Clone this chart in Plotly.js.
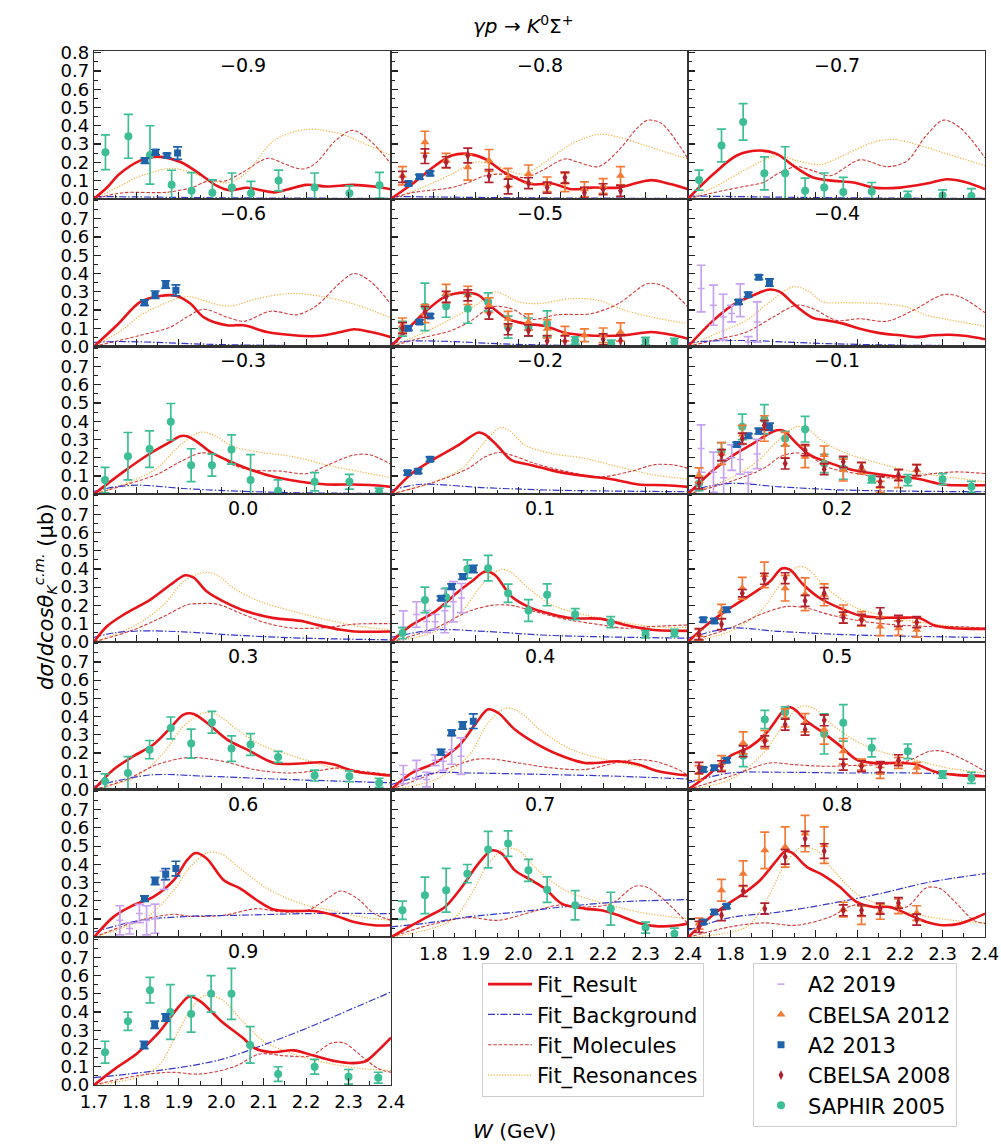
<!DOCTYPE html>
<html>
<head>
<meta charset="utf-8">
<script src="https://cdn.plot.ly/plotly-3.0.1.min.js"></script>
<style>
  html, body { margin: 0; padding: 0; background: #ffffff; }
  #chart { width: 1001px; height: 1146px; }
</style>
</head>
<body>
<div id="chart"></div>
<script>
// cos(theta_K) bins, one panel each, row by row
const cosBins = ['\u22120.9', '\u22120.8', '\u22120.7', '\u22120.6', '\u22120.5', '\u22120.4',
                 '\u22120.3', '\u22120.2', '\u22120.1', '0.0', '0.1', '0.2',
                 '0.3', '0.4', '0.5', '0.6', '0.7', '0.8', '0.9'];
const xTicks = [1.7, 1.8, 1.9, 2.0, 2.1, 2.2, 2.3, 2.4];
const yTicks = [0.0, 0.1, 0.2, 0.3, 0.4, 0.5, 0.6, 0.7, 0.8];

// Fit curves: [W (GeV), dsigma/dcos (ub)]
// Data sets: [W (GeV), dsigma/dcos (ub), error]

// ---- cos = -0.9
const fitRes_m09 = [[1.7,0],[1.73,0.06],[1.76,0.135],[1.81,0.21],[1.85,0.231],[1.905,0.2],[1.95,0.135],[1.99,0.07],[2.02,0.046],[2.06,0.06],[2.09,0.048],[2.125,0.035],[2.156,0.05],[2.2,0.076],[2.25,0.067],[2.31,0.076],[2.36,0.067],[2.4,0.052]];
const fitBkg_m09 = [[1.7,0.012],[1.8,0.01],[1.9,0.007],[2.0,0.005],[2.2,0.003],[2.4,0.002]];
const fitMol_m09 = [[1.7,0],[1.77,0.033],[1.87,0.035],[1.93,0.061],[1.97,0.098],[2.01,0.098],[2.05,0.144],[2.11,0.222],[2.15,0.19],[2.19,0.163],[2.22,0.19],[2.27,0.32],[2.31,0.375],[2.35,0.32],[2.4,0.19]];
const fitRsn_m09 = [[1.7,0],[1.77,0.08],[1.8,0.116],[1.88,0.166],[1.93,0.144],[1.98,0.098],[2.02,0.089],[2.06,0.144],[2.125,0.32],[2.2,0.38],[2.28,0.357],[2.33,0.31],[2.4,0.237]];
const saphir_m09 = [[1.727,0.255,0.095],[1.781,0.342,0.12],[1.832,0.24,0.16],[1.883,0.076,0.08],[1.93,0.043,0.1],[1.979,0.033,0.07],[2.025,0.061,0.08],[2.07,0.03,0.065],[2.135,0.1,0.057],[2.22,0.061,0.08],[2.302,0.03,0.04],[2.373,0.074,0.07]];
const a213_m09 = [[1.82,0.209,0.015],[1.845,0.255,0.015],[1.872,0.237,0.012],[1.897,0.25,0.034]];

// ---- cos = -0.8
const fitRes_m08 = [[1.7,0],[1.749,0.079],[1.804,0.181],[1.843,0.237],[1.882,0.246],[1.922,0.218],[1.961,0.153],[2.0,0.107],[2.034,0.079],[2.079,0.083],[2.126,0.052],[2.173,0.061],[2.236,0.061],[2.283,0.089],[2.314,0.102],[2.361,0.079],[2.4,0.052]];
const fitBkg_m08 = [[1.7,0.012],[1.8,0.01],[1.9,0.007],[2.0,0.005],[2.2,0.003],[2.4,0.002]];
const fitMol_m08 = [[1.7,0],[1.749,0.033],[1.843,0.061],[1.882,0.089],[1.922,0.126],[1.961,0.135],[2.016,0.116],[2.055,0.153],[2.11,0.218],[2.141,0.2],[2.189,0.176],[2.236,0.264],[2.283,0.394],[2.306,0.431],[2.338,0.412],[2.377,0.301],[2.4,0.218]];
const fitRsn_m08 = [[1.7,0],[1.764,0.052],[1.843,0.135],[1.898,0.2],[1.937,0.19],[1.984,0.148],[2.016,0.135],[2.063,0.2],[2.126,0.301],[2.189,0.353],[2.236,0.338],[2.299,0.292],[2.361,0.246],[2.4,0.218]];
const cb12_m08 = [[1.727,0.126,0.05],[1.78,0.31,0.06],[1.83,0.209,0.04],[1.881,0.172,0.07],[1.931,0.21,0.06],[1.976,0.116,0.05],[2.024,0.135,0.05],[2.068,0.079,0.04],[2.11,0.089,0.05],[2.156,0.052,0.04],[2.2,0.07,0.04],[2.241,0.126,0.05]];
const cb08_m08 = [[1.727,0.12,0.03],[1.78,0.233,0.04],[1.83,0.2,0.03],[1.881,0.237,0.04],[1.931,0.125,0.035],[1.976,0.067,0.04],[2.024,0.085,0.03],[2.068,0.061,0.03],[2.11,0.116,0.03],[2.156,0.033,0.03],[2.2,0.052,0.03],[2.241,0.043,0.03]];
const a213_m08 = [[1.741,0.083,0.012],[1.767,0.12,0.012],[1.792,0.139,0.012]];

// ---- cos = -0.7
const fitRes_m07 = [[1.7,0],[1.76,0.135],[1.815,0.237],[1.87,0.264],[1.909,0.246],[1.948,0.181],[1.995,0.116],[2.043,0.098],[2.09,0.089],[2.137,0.061],[2.2,0.061],[2.262,0.083],[2.31,0.107],[2.357,0.089],[2.4,0.052]];
const fitBkg_m07 = [[1.7,0.015],[1.8,0.012],[1.9,0.009],[2.0,0.006],[2.2,0.003],[2.4,0.002]];
const fitMol_m07 = [[1.7,0],[1.76,0.033],[1.838,0.07],[1.877,0.089],[1.917,0.144],[1.956,0.176],[1.995,0.153],[2.035,0.126],[2.105,0.213],[2.168,0.176],[2.215,0.205],[2.262,0.348],[2.302,0.431],[2.341,0.39],[2.4,0.224]];
const fitRsn_m07 = [[1.7,0],[1.76,0.061],[1.838,0.163],[1.909,0.237],[1.956,0.209],[2.011,0.187],[2.074,0.246],[2.137,0.31],[2.184,0.325],[2.247,0.292],[2.31,0.246],[2.4,0.181]];
const saphir_m07 = [[1.726,0.102,0.055],[1.779,0.292,0.09],[1.83,0.421,0.1],[1.88,0.139,0.09],[1.929,0.139,0.146],[1.976,0.043,0.07],[2.021,0.061,0.08],[2.066,0.037,0.08],[2.133,0.039,0.05],[2.218,0.01,0.03],[2.3,0.018,0.03],[2.368,0.015,0.04]];

// ---- cos = -0.6
const fitRes_m06 = [[1.7,0],[1.754,0.116],[1.809,0.244],[1.856,0.277],[1.895,0.277],[1.927,0.235],[1.958,0.161],[2.013,0.116],[2.053,0.116],[2.108,0.079],[2.171,0.061],[2.226,0.057],[2.282,0.079],[2.313,0.094],[2.353,0.079],[2.4,0.051]];
const fitBkg_m06 = [[1.7,0.022],[1.75,0.027],[1.85,0.022],[1.95,0.013],[2.05,0.008],[2.2,0.004],[2.4,0.002]];
const fitMol_m06 = [[1.7,0],[1.809,0.061],[1.88,0.106],[1.919,0.161],[1.958,0.204],[2.013,0.161],[2.053,0.138],[2.116,0.193],[2.179,0.174],[2.226,0.226],[2.274,0.336],[2.313,0.4],[2.353,0.354],[2.4,0.229]];
const fitRsn_m06 = [[1.7,0],[1.77,0.097],[1.809,0.17],[1.848,0.217],[1.9,0.265],[1.927,0.272],[1.982,0.235],[2.022,0.222],[2.085,0.262],[2.163,0.29],[2.242,0.272],[2.321,0.226],[2.4,0.156]];
const a213_m06 = [[1.819,0.24,0.015],[1.844,0.284,0.02],[1.869,0.34,0.02],[1.893,0.308,0.03]];

// ---- cos = -0.5
const fitRes_m05 = [[1.7,0],[1.733,0.079],[1.78,0.189],[1.827,0.272],[1.874,0.295],[1.906,0.281],[1.937,0.217],[1.977,0.149],[2.016,0.125],[2.063,0.112],[2.11,0.075],[2.157,0.061],[2.204,0.057],[2.251,0.061],[2.314,0.079],[2.361,0.064],[2.4,0.042]];
const fitBkg_m05 = [[1.7,0.02],[1.75,0.03],[1.85,0.026],[1.95,0.015],[2.05,0.008],[2.2,0.004],[2.4,0.002]];
const fitMol_m05 = [[1.7,0],[1.764,0.042],[1.843,0.088],[1.89,0.143],[1.937,0.217],[1.984,0.207],[2.031,0.149],[2.094,0.174],[2.173,0.18],[2.236,0.235],[2.306,0.345],[2.346,0.327],[2.4,0.217]];
const fitRsn_m05 = [[1.7,0],[1.764,0.061],[1.843,0.152],[1.906,0.235],[1.945,0.299],[2.0,0.244],[2.047,0.235],[2.126,0.262],[2.189,0.253],[2.251,0.198],[2.314,0.161],[2.4,0.125]];
const cb12_m05 = [[1.727,0.116,0.04],[1.78,0.18,0.05],[1.83,0.29,0.05],[1.881,0.28,0.05],[1.931,0.226,0.04],[1.976,0.152,0.04],[2.024,0.134,0.045],[2.068,0.097,0.05],[2.11,0.07,0.04],[2.156,0.061,0.035],[2.2,0.061,0.04],[2.241,0.079,0.05]];
const cb08_m05 = [[1.727,0.1,0.03],[1.78,0.189,0.03],[1.83,0.272,0.03],[1.881,0.28,0.03],[1.931,0.18,0.03],[1.976,0.094,0.03],[2.024,0.088,0.03],[2.068,0.03,0.03],[2.11,0.028,0.03],[2.2,0.039,0.03],[2.241,0.033,0.03]];
const saphir_m05 = [[1.727,0.097,0.04],[1.78,0.217,0.13],[1.83,0.22,0.06],[1.881,0.207,0.08],[1.929,0.244,0.05],[1.976,0.106,0.06],[2.024,0.106,0.05],[2.068,0.125,0.07],[2.134,0.033,0.02],[2.219,0.015,0.02],[2.3,0.03,0.02],[2.368,0.024,0.02]];
const a213_m05 = [[1.741,0.1,0.012],[1.767,0.134,0.012],[1.792,0.167,0.012]];

// ---- cos = -0.4
const fitRes_m04 = [[1.7,0],[1.76,0.143],[1.807,0.229],[1.854,0.281],[1.893,0.312],[1.917,0.299],[1.948,0.235],[1.995,0.156],[2.027,0.143],[2.066,0.125],[2.105,0.097],[2.152,0.073],[2.2,0.061],[2.239,0.051],[2.278,0.061],[2.317,0.064],[2.357,0.057],[2.4,0.039]];
const fitBkg_m04 = [[1.7,0.02],[1.75,0.03],[1.85,0.032],[1.95,0.022],[2.05,0.014],[2.2,0.007],[2.4,0.004]];
const fitMol_m04 = [[1.7,0],[1.775,0.042],[1.838,0.079],[1.901,0.161],[1.956,0.226],[1.995,0.207],[2.05,0.143],[2.105,0.152],[2.168,0.138],[2.231,0.198],[2.302,0.284],[2.341,0.272],[2.4,0.185]];
const fitRsn_m04 = [[1.7,0],[1.775,0.079],[1.838,0.143],[1.893,0.244],[1.948,0.327],[1.98,0.308],[2.019,0.244],[2.074,0.24],[2.152,0.235],[2.215,0.217],[2.262,0.171],[2.31,0.149],[2.4,0.11]];
const a219_m04 = [[1.731,0.317,0.128],[1.76,0.226,0.11],[1.783,0.161,0.125],[1.803,0.18,0.045],[1.823,0.253,0.09],[1.842,0.024,0.03],[1.863,0.134,0.11]];
const a213_m04 = [[1.819,0.244,0.012],[1.842,0.284,0.012],[1.867,0.38,0.012],[1.892,0.35,0.02]];

// ---- cos = -0.3
const fitRes_m03 = [[1.7,0],[1.769,0.122],[1.832,0.223],[1.88,0.287],[1.903,0.318],[1.919,0.318],[1.943,0.287],[1.974,0.232],[2.014,0.186],[2.061,0.141],[2.124,0.095],[2.187,0.068],[2.25,0.053],[2.313,0.053],[2.36,0.049],[2.4,0.04]];
const fitBkg_m03 = [[1.7,0.015],[1.75,0.04],[1.81,0.049],[1.91,0.031],[2.045,0.016],[2.2,0.007],[2.4,0.004]];
const fitMol_m03 = [[1.7,0],[1.777,0.053],[1.848,0.108],[1.903,0.177],[1.951,0.225],[1.99,0.214],[2.029,0.159],[2.077,0.132],[2.14,0.126],[2.203,0.113],[2.25,0.159],[2.313,0.215],[2.352,0.215],[2.4,0.163]];
const fitRsn_m03 = [[1.7,0],[1.785,0.068],[1.848,0.141],[1.903,0.269],[1.951,0.34],[1.982,0.324],[2.029,0.26],[2.092,0.229],[2.171,0.205],[2.25,0.159],[2.329,0.122],[2.4,0.09]];
const saphir_m03 = [[1.726,0.077,0.07],[1.78,0.208,0.13],[1.831,0.247,0.1],[1.881,0.397,0.1],[1.929,0.159,0.09],[1.978,0.159,0.06],[2.024,0.245,0.08],[2.069,0.077,0.14],[2.134,0.018,0.06],[2.22,0.068,0.05],[2.302,0.068,0.04],[2.372,0.013,0.02]];

// ---- cos = -0.2
const fitRes_m02 = [[1.7,0],[1.749,0.113],[1.804,0.196],[1.859,0.269],[1.906,0.338],[1.922,0.327],[1.953,0.26],[1.984,0.186],[2.031,0.159],[2.094,0.122],[2.157,0.1],[2.22,0.082],[2.283,0.053],[2.346,0.049],[2.4,0.04]];
const fitBkg_m02 = [[1.7,0.02],[1.764,0.053],[1.922,0.035],[2.08,0.022],[2.4,0.013]];
const fitMol_m02 = [[1.7,0],[1.804,0.068],[1.882,0.141],[1.922,0.205],[1.953,0.228],[1.984,0.214],[2.039,0.168],[2.118,0.122],[2.196,0.095],[2.267,0.126],[2.322,0.162],[2.369,0.159],[2.4,0.141]];
const fitRsn_m02 = [[1.7,0],[1.804,0.068],[1.867,0.141],[1.914,0.269],[1.957,0.364],[1.977,0.351],[2.016,0.269],[2.079,0.223],[2.157,0.196],[2.236,0.15],[2.314,0.108],[2.4,0.082]];
const a213_m02 = [[1.739,0.117,0.012],[1.764,0.126,0.012],[1.792,0.192,0.012]];

// ---- cos = -0.1
const fitRes_m01 = [[1.7,0],[1.76,0.132],[1.807,0.214],[1.854,0.278],[1.885,0.324],[1.909,0.35],[1.925,0.348],[1.956,0.278],[1.988,0.214],[2.027,0.177],[2.074,0.141],[2.137,0.113],[2.2,0.095],[2.247,0.082],[2.302,0.053],[2.4,0.049]];
const fitBkg_m01 = [[1.7,0.02],[1.8,0.059],[1.917,0.04],[2.074,0.022],[2.4,0.013]];
const fitMol_m01 = [[1.7,0],[1.799,0.068],[1.878,0.141],[1.917,0.205],[1.948,0.225],[1.98,0.218],[2.027,0.15],[2.097,0.113],[2.168,0.09],[2.231,0.095],[2.278,0.113],[2.333,0.122],[2.4,0.113]];
const fitRsn_m01 = [[1.7,0],[1.799,0.086],[1.862,0.177],[1.909,0.287],[1.956,0.37],[1.98,0.36],[2.019,0.287],[2.074,0.223],[2.152,0.168],[2.231,0.122],[2.31,0.095],[2.4,0.068]];
const a219_m01 = [[1.731,0.25,0.13],[1.76,0.12,0.11],[1.784,0.09,0.1],[1.803,0.2,0.07],[1.823,0.19,0.08],[1.842,0.06,0.06],[1.863,0.22,0.08]];
const cb12_m01 = [[1.726,0.104,0.04],[1.779,0.223,0.06],[1.828,0.327,0.05],[1.88,0.36,0.07],[1.929,0.269,0.07],[1.976,0.205,0.06],[2.021,0.214,0.05],[2.066,0.132,0.06],[2.109,0.141,0.03],[2.153,0.04,0.03],[2.196,0.086,0.05],[2.239,0.132,0.03]];
const cb08_m01 = [[1.726,0.059,0.03],[1.779,0.214,0.03],[1.828,0.305,0.03],[1.88,0.378,0.025],[1.929,0.168,0.03],[1.976,0.241,0.03],[2.021,0.137,0.03],[2.066,0.177,0.03],[2.109,0.15,0.025],[2.153,0.068,0.03],[2.196,0.104,0.03],[2.239,0.132,0.03]];
const saphir_m01 = [[1.726,0.059,0.04],[1.779,0.232,0.05],[1.828,0.369,0.07],[1.88,0.411,0.08],[1.929,0.305,0.04],[1.976,0.356,0.07],[2.021,0.168,0.05],[2.066,0.141,0.06],[2.133,0.082,0.02],[2.218,0.077,0.03],[2.3,0.082,0.03],[2.368,0.04,0.03]];
const a213_m01 = [[1.815,0.272,0.012],[1.842,0.32,0.012],[1.867,0.346,0.015],[1.892,0.369,0.02]];

// ---- cos = 0.0
const fitRes_p00 = [[1.7,0],[1.73,0.084],[1.769,0.148],[1.832,0.23],[1.88,0.313],[1.915,0.365],[1.935,0.352],[1.966,0.276],[2.006,0.221],[2.061,0.166],[2.124,0.13],[2.187,0.115],[2.226,0.093],[2.282,0.066],[2.313,0.057],[2.4,0.057]];
const fitBkg_p00 = [[1.7,0.025],[1.75,0.05],[1.81,0.06],[1.91,0.055],[2.045,0.035],[2.2,0.02],[2.4,0.011]];
const fitMol_p00 = [[1.7,0],[1.793,0.066],[1.872,0.148],[1.919,0.203],[1.951,0.21],[1.99,0.207],[2.045,0.157],[2.108,0.102],[2.171,0.075],[2.25,0.079],[2.313,0.097],[2.36,0.1],[2.4,0.1]];
const fitRsn_p00 = [[1.7,0],[1.8,0.093],[1.864,0.203],[1.911,0.331],[1.958,0.38],[1.99,0.367],[2.029,0.294],[2.092,0.221],[2.171,0.166],[2.25,0.121],[2.329,0.084],[2.4,0.066]];

// ---- cos = 0.1
const fitRes_p01 = [[1.7,0],[1.749,0.093],[1.804,0.166],[1.859,0.276],[1.89,0.331],[1.922,0.386],[1.945,0.367],[1.984,0.249],[2.031,0.185],[2.079,0.152],[2.126,0.13],[2.196,0.126],[2.251,0.093],[2.314,0.066],[2.4,0.06]];
const fitBkg_p01 = [[1.7,0.024],[1.804,0.066],[1.922,0.057],[2.079,0.035],[2.4,0.02]];
const fitMol_p01 = [[1.7,0],[1.804,0.075],[1.882,0.166],[1.937,0.2],[1.984,0.2],[2.039,0.166],[2.118,0.121],[2.196,0.093],[2.251,0.075],[2.314,0.084],[2.4,0.093]];
const fitRsn_p01 = [[1.7,0],[1.804,0.057],[1.867,0.166],[1.914,0.313],[1.957,0.395],[1.977,0.39],[2.024,0.294],[2.079,0.203],[2.157,0.148],[2.236,0.112],[2.314,0.084],[2.4,0.079]];
const a219_p01 = [[1.729,0.08,0.09],[1.76,0.15,0.07],[1.784,0.112,0.06],[1.804,0.11,0.04],[1.827,0.17,0.12],[1.847,0.22,0.11],[1.866,0.24,0.08]];
const saphir_p01 = [[1.727,0.048,0.03],[1.78,0.23,0.07],[1.83,0.245,0.05],[1.88,0.4,0.05],[1.929,0.404,0.07],[1.976,0.267,0.05],[2.024,0.172,0.06],[2.068,0.258,0.06],[2.134,0.152,0.03],[2.218,0.108,0.03],[2.3,0.042,0.02],[2.368,0.048,0.02]];
const a213_p01 = [[1.818,0.239,0.012],[1.843,0.303,0.015],[1.869,0.358,0.015],[1.894,0.4,0.02]];

// ---- cos = 0.2
const fitRes_p02 = [[1.7,0],[1.744,0.093],[1.799,0.185],[1.854,0.267],[1.893,0.331],[1.921,0.402],[1.94,0.396],[1.972,0.313],[2.011,0.239],[2.058,0.185],[2.105,0.144],[2.152,0.133],[2.215,0.133],[2.247,0.13],[2.278,0.093],[2.325,0.075],[2.4,0.071]];
const fitBkg_p02 = [[1.7,0.02],[1.799,0.075],[1.917,0.057],[2.09,0.038],[2.4,0.024]];
const fitMol_p02 = [[1.7,0],[1.799,0.075],[1.878,0.157],[1.933,0.194],[1.98,0.185],[2.035,0.148],[2.113,0.112],[2.192,0.093],[2.27,0.084],[2.333,0.084],[2.4,0.075]];
const fitRsn_p02 = [[1.7,0],[1.799,0.057],[1.87,0.166],[1.917,0.313],[1.956,0.41],[1.98,0.404],[2.027,0.294],[2.09,0.194],[2.168,0.139],[2.247,0.108],[2.325,0.084],[2.4,0.075]];
const cb12_p02 = [[1.726,0.038,0.03],[1.779,0.166,0.04],[1.828,0.294,0.06],[1.88,0.367,0.07],[1.929,0.294,0.07],[1.976,0.261,0.09],[2.021,0.258,0.06],[2.066,0.152,0.05],[2.109,0.126,0.04],[2.153,0.084,0.05],[2.196,0.075,0.04],[2.239,0.066,0.04]];
const cb08_p02 = [[1.726,0.042,0.03],[1.779,0.097,0.03],[1.828,0.267,0.02],[1.88,0.346,0.03],[1.929,0.349,0.03],[1.976,0.225,0.03],[2.021,0.267,0.03],[2.066,0.133,0.03],[2.109,0.121,0.03],[2.153,0.157,0.03],[2.196,0.115,0.03],[2.239,0.108,0.03]];
const a213_p02 = [[1.736,0.121,0.012],[1.762,0.115,0.012],[1.791,0.176,0.012]];

// ---- cos = 0.3
const fitRes_p03 = [[1.7,0],[1.746,0.11],[1.793,0.183],[1.84,0.247],[1.88,0.338],[1.911,0.411],[1.935,0.415],[1.966,0.366],[2.014,0.274],[2.061,0.219],[2.124,0.146],[2.187,0.143],[2.234,0.15],[2.266,0.137],[2.313,0.101],[2.36,0.086],[2.4,0.077]];
const fitBkg_p03 = [[1.7,0.018],[1.832,0.08],[1.966,0.073],[2.124,0.058],[2.282,0.046],[2.4,0.037]];
const fitMol_p03 = [[1.7,0],[1.777,0.055],[1.848,0.137],[1.919,0.175],[1.958,0.172],[2.014,0.15],[2.077,0.11],[2.155,0.091],[2.219,0.101],[2.282,0.119],[2.329,0.101],[2.4,0.082]];
const fitRsn_p03 = [[1.7,0],[1.801,0.073],[1.864,0.201],[1.911,0.347],[1.958,0.42],[1.99,0.41],[2.037,0.329],[2.092,0.247],[2.171,0.183],[2.25,0.128],[2.329,0.091],[2.4,0.073]];
const saphir_p03 = [[1.726,0.046,0.04],[1.78,0.091,0.09],[1.831,0.219,0.05],[1.881,0.338,0.06],[1.929,0.252,0.08],[1.978,0.369,0.06],[2.024,0.225,0.07],[2.069,0.247,0.06],[2.134,0.179,0.03],[2.22,0.077,0.03],[2.302,0.073,0.03],[2.372,0.037,0.025]];

// ---- cos = 0.4
const fitRes_p04 = [[1.7,0],[1.749,0.091],[1.804,0.146],[1.859,0.238],[1.898,0.356],[1.929,0.44],[1.953,0.42],[1.992,0.329],[2.039,0.256],[2.094,0.192],[2.157,0.146],[2.236,0.155],[2.283,0.137],[2.33,0.101],[2.4,0.077]];
const fitBkg_p04 = [[1.7,0.027],[1.804,0.091],[1.882,0.091],[2.079,0.082],[2.236,0.073],[2.4,0.058]];
const fitMol_p04 = [[1.7,0],[1.804,0.091],[1.898,0.165],[1.937,0.168],[2.0,0.146],[2.079,0.119],[2.157,0.11],[2.236,0.15],[2.283,0.165],[2.33,0.15],[2.377,0.11],[2.4,0.077]];
const fitRsn_p04 = [[1.7,0],[1.804,0.055],[1.882,0.183],[1.929,0.366],[1.969,0.445],[2.0,0.43],[2.055,0.32],[2.126,0.219],[2.204,0.165],[2.283,0.128],[2.353,0.091],[2.4,0.077]];
const a219_p04 = [[1.729,0.082,0.05],[1.76,0.11,0.05],[1.784,0.055,0.04],[1.804,0.161,0.03],[1.823,0.155,0.05],[1.843,0.219,0.08],[1.865,0.183,0.1]];
const a213_p04 = [[1.818,0.205,0.015],[1.843,0.311,0.015],[1.869,0.351,0.02],[1.894,0.375,0.04]];

// ---- cos = 0.5
const fitRes_p05 = [[1.7,0],[1.744,0.073],[1.799,0.183],[1.846,0.234],[1.885,0.311],[1.917,0.411],[1.932,0.452],[1.948,0.445],[1.98,0.375],[2.019,0.311],[2.058,0.241],[2.097,0.165],[2.137,0.146],[2.2,0.146],[2.239,0.137],[2.278,0.101],[2.325,0.082],[2.4,0.073]];
const fitBkg_p05 = [[1.7,0.037],[1.799,0.091],[1.917,0.095],[2.074,0.091],[2.231,0.091],[2.4,0.077]];
const fitMol_p05 = [[1.7,0],[1.799,0.073],[1.893,0.146],[1.948,0.137],[2.019,0.128],[2.09,0.132],[2.152,0.137],[2.215,0.155],[2.27,0.21],[2.302,0.21],[2.349,0.165],[2.4,0.101]];
const fitRsn_p05 = [[1.7,0],[1.799,0.055],[1.878,0.201],[1.925,0.356],[1.964,0.455],[1.995,0.448],[2.035,0.366],[2.09,0.274],[2.152,0.21],[2.231,0.165],[2.31,0.119],[2.4,0.091]];
const cb12_p05 = [[1.726,0.091,0.04],[1.779,0.146,0.04],[1.83,0.256,0.06],[1.881,0.274,0.05],[1.929,0.393,0.05],[1.976,0.366,0.05],[2.021,0.329,0.08],[2.066,0.21,0.07],[2.109,0.137,0.03],[2.153,0.091,0.03],[2.196,0.146,0.03],[2.239,0.119,0.03]];
const cb08_p05 = [[1.726,0.119,0.03],[1.779,0.128,0.03],[1.83,0.21,0.03],[1.881,0.265,0.03],[1.929,0.356,0.03],[1.976,0.329,0.03],[2.021,0.38,0.03],[2.066,0.137,0.03],[2.109,0.128,0.03],[2.153,0.124,0.03],[2.196,0.161,0.03]];
const saphir_p05 = [[1.83,0.186,0.06],[1.881,0.384,0.05],[1.929,0.424,0.03],[2.021,0.305,0.11],[2.066,0.366,0.1],[2.133,0.229,0.05],[2.218,0.21,0.04],[2.3,0.082,0.02],[2.368,0.064,0.03]];
const a213_p05 = [[1.736,0.11,0.012],[1.762,0.119,0.012],[1.791,0.161,0.012]];

// ---- cos = 0.6
const fitRes_p06 = [[1.7,0],[1.746,0.112],[1.793,0.176],[1.84,0.221],[1.888,0.313],[1.919,0.422],[1.939,0.462],[1.966,0.431],[2.006,0.313],[2.045,0.267],[2.084,0.203],[2.124,0.152],[2.171,0.144],[2.219,0.144],[2.266,0.121],[2.313,0.084],[2.36,0.066],[2.4,0.066]];
const fitBkg_p06 = [[1.7,0.029],[1.809,0.093],[1.927,0.115],[2.045,0.121],[2.203,0.13],[2.4,0.13]];
const fitMol_p06 = [[1.7,0],[1.809,0.093],[1.888,0.126],[1.927,0.115],[2.006,0.121],[2.084,0.157],[2.14,0.139],[2.203,0.148],[2.25,0.212],[2.282,0.254],[2.321,0.212],[2.36,0.13],[2.4,0.093]];
const fitRsn_p06 = [[1.7,0],[1.825,0.112],[1.888,0.258],[1.927,0.386],[1.966,0.462],[1.998,0.459],[2.045,0.377],[2.108,0.267],[2.187,0.185],[2.266,0.144],[2.329,0.112],[2.4,0.093]];
const a219_p06 = [[1.761,0.093,0.08],[1.784,0.048,0.03],[1.807,0.13,0.05],[1.824,0.093,0.08],[1.844,0.102,0.08],[1.865,0.313,0.05]];
const a213_p06 = [[1.819,0.212,0.015],[1.844,0.309,0.02],[1.869,0.346,0.03],[1.893,0.377,0.04]];

// ---- cos = 0.7
const fitRes_p07 = [[1.7,0],[1.749,0.066],[1.788,0.115],[1.827,0.166],[1.867,0.276],[1.906,0.404],[1.937,0.476],[1.961,0.459],[1.992,0.367],[2.031,0.313],[2.063,0.267],[2.102,0.185],[2.157,0.157],[2.196,0.148],[2.236,0.121],[2.283,0.079],[2.33,0.06],[2.377,0.066],[2.4,0.075]];
const fitBkg_p07 = [[1.7,0.057],[1.788,0.079],[1.882,0.112],[2.0,0.139],[2.118,0.17],[2.236,0.194],[2.4,0.207]];
const fitMol_p07 = [[1.7,0],[1.788,0.066],[1.882,0.108],[1.953,0.093],[2.031,0.139],[2.094,0.176],[2.157,0.166],[2.22,0.185],[2.275,0.28],[2.306,0.272],[2.353,0.185],[2.4,0.075]];
const fitRsn_p07 = [[1.7,0],[1.843,0.093],[1.89,0.239],[1.929,0.404],[1.969,0.486],[2.0,0.477],[2.047,0.367],[2.11,0.258],[2.189,0.194],[2.283,0.139],[2.361,0.112],[2.4,0.102]];
const saphir_p07 = [[1.727,0.148,0.05],[1.78,0.23,0.1],[1.83,0.258,0.12],[1.88,0.349,0.05],[1.929,0.481,0.1],[1.976,0.514,0.07],[2.024,0.367,0.06],[2.068,0.261,0.07],[2.134,0.176,0.08],[2.218,0.157,0.09],[2.3,0.053,0.03],[2.368,0.02,0.03]];

// ---- cos = 0.8
const fitRes_p08 = [[1.7,0],[1.744,0.093],[1.783,0.166],[1.83,0.239],[1.87,0.313],[1.909,0.422],[1.929,0.472],[1.945,0.464],[1.98,0.386],[2.019,0.34],[2.058,0.276],[2.097,0.194],[2.137,0.166],[2.176,0.166],[2.215,0.13],[2.262,0.084],[2.302,0.066],[2.341,0.075],[2.373,0.102],[2.4,0.13]];
const fitBkg_p08 = [[1.7,0.038],[1.799,0.108],[1.917,0.139],[2.035,0.185],[2.152,0.239],[2.27,0.303],[2.4,0.349]];
const fitMol_p08 = [[1.7,0],[1.799,0.057],[1.878,0.079],[1.956,0.066],[2.035,0.112],[2.09,0.176],[2.152,0.166],[2.215,0.166],[2.262,0.272],[2.294,0.267],[2.333,0.185],[2.373,0.093],[2.4,0.075]];
const fitRsn_p08 = [[1.7,0],[1.838,0.057],[1.885,0.203],[1.925,0.386],[1.964,0.49],[2.003,0.477],[2.043,0.367],[2.097,0.239],[2.168,0.166],[2.247,0.121],[2.325,0.093],[2.4,0.079]];
const cb12_p08 = [[1.726,0.075,0.03],[1.779,0.258,0.06],[1.83,0.349,0.07],[1.881,0.477,0.1],[1.929,0.495,0.11],[1.976,0.569,0.1],[2.021,0.505,0.1],[2.066,0.152,0.04],[2.109,0.121,0.05],[2.153,0.139,0.04],[2.196,0.17,0.04],[2.239,0.133,0.04]];
const cb08_p08 = [[1.726,0.057,0.03],[1.779,0.121,0.03],[1.83,0.254,0.03],[1.881,0.157,0.03],[1.929,0.441,0.04],[1.976,0.541,0.04],[2.021,0.473,0.04],[2.066,0.148,0.03],[2.109,0.148,0.03],[2.153,0.157,0.03],[2.196,0.188,0.03],[2.239,0.097,0.03]];
const a213_p08 = [[1.736,0.084,0.012],[1.762,0.139,0.012],[1.791,0.17,0.012]];

// ---- cos = 0.9
const fitRes_p09 = [[1.7,0],[1.75,0.09],[1.8,0.17],[1.85,0.28],[1.9,0.43],[1.925,0.485],[1.95,0.46],[2.0,0.35],[2.05,0.26],[2.08,0.2],[2.12,0.18],[2.17,0.19],[2.22,0.16],[2.27,0.13],[2.31,0.12],[2.34,0.13],[2.37,0.19],[2.4,0.26]];
const fitBkg_p09 = [[1.7,0.04],[1.8,0.065],[1.9,0.095],[2.0,0.14],[2.1,0.22],[2.2,0.31],[2.3,0.41],[2.4,0.51]];
const fitMol_p09 = [[1.7,0],[1.8,0.05],[1.88,0.07],[1.95,0.06],[2.03,0.1],[2.09,0.17],[2.15,0.16],[2.21,0.16],[2.26,0.23],[2.29,0.23],[2.33,0.16],[2.37,0.09],[2.4,0.07]];
const fitRsn_p09 = [[1.7,0],[1.8,0.04],[1.85,0.1],[1.9,0.3],[1.93,0.42],[1.96,0.49],[2.0,0.47],[2.05,0.35],[2.1,0.24],[2.17,0.17],[2.25,0.12],[2.33,0.09],[2.4,0.08]];
const saphir_p09 = [[1.726,0.18,0.06],[1.78,0.35,0.05],[1.832,0.52,0.07],[1.88,0.4,0.15],[1.929,0.39,0.1],[1.976,0.5,0.1],[2.024,0.5,0.14],[2.068,0.22,0.1],[2.134,0.06,0.04],[2.22,0.1,0.04],[2.3,0.045,0.04],[2.37,0.04,0.03]];
const a213_p09 = [[1.818,0.22,0.02],[1.843,0.33,0.02],[1.869,0.37,0.02]];

// panel table: curves and data sets per cos bin
const panels = [
  {res: fitRes_m09, bkg: fitBkg_m09, mol: fitMol_m09, rsn: fitRsn_m09, data: {saphir: saphir_m09, a213: a213_m09}},
  {res: fitRes_m08, bkg: fitBkg_m08, mol: fitMol_m08, rsn: fitRsn_m08, data: {cb12: cb12_m08, a213: a213_m08, cb08: cb08_m08}},
  {res: fitRes_m07, bkg: fitBkg_m07, mol: fitMol_m07, rsn: fitRsn_m07, data: {saphir: saphir_m07}},
  {res: fitRes_m06, bkg: fitBkg_m06, mol: fitMol_m06, rsn: fitRsn_m06, data: {a213: a213_m06}},
  {res: fitRes_m05, bkg: fitBkg_m05, mol: fitMol_m05, rsn: fitRsn_m05, data: {saphir: saphir_m05, cb12: cb12_m05, a213: a213_m05, cb08: cb08_m05}},
  {res: fitRes_m04, bkg: fitBkg_m04, mol: fitMol_m04, rsn: fitRsn_m04, data: {a219: a219_m04, a213: a213_m04}},
  {res: fitRes_m03, bkg: fitBkg_m03, mol: fitMol_m03, rsn: fitRsn_m03, data: {saphir: saphir_m03}},
  {res: fitRes_m02, bkg: fitBkg_m02, mol: fitMol_m02, rsn: fitRsn_m02, data: {a213: a213_m02}},
  {res: fitRes_m01, bkg: fitBkg_m01, mol: fitMol_m01, rsn: fitRsn_m01, data: {a219: a219_m01, saphir: saphir_m01, cb12: cb12_m01, a213: a213_m01, cb08: cb08_m01}},
  {res: fitRes_p00, bkg: fitBkg_p00, mol: fitMol_p00, rsn: fitRsn_p00, data: {}},
  {res: fitRes_p01, bkg: fitBkg_p01, mol: fitMol_p01, rsn: fitRsn_p01, data: {a219: a219_p01, saphir: saphir_p01, a213: a213_p01}},
  {res: fitRes_p02, bkg: fitBkg_p02, mol: fitMol_p02, rsn: fitRsn_p02, data: {cb12: cb12_p02, a213: a213_p02, cb08: cb08_p02}},
  {res: fitRes_p03, bkg: fitBkg_p03, mol: fitMol_p03, rsn: fitRsn_p03, data: {saphir: saphir_p03}},
  {res: fitRes_p04, bkg: fitBkg_p04, mol: fitMol_p04, rsn: fitRsn_p04, data: {a219: a219_p04, a213: a213_p04}},
  {res: fitRes_p05, bkg: fitBkg_p05, mol: fitMol_p05, rsn: fitRsn_p05, data: {saphir: saphir_p05, cb12: cb12_p05, a213: a213_p05, cb08: cb08_p05}},
  {res: fitRes_p06, bkg: fitBkg_p06, mol: fitMol_p06, rsn: fitRsn_p06, data: {a219: a219_p06, a213: a213_p06}},
  {res: fitRes_p07, bkg: fitBkg_p07, mol: fitMol_p07, rsn: fitRsn_p07, data: {saphir: saphir_p07}},
  {res: fitRes_p08, bkg: fitBkg_p08, mol: fitMol_p08, rsn: fitRsn_p08, data: {cb12: cb12_p08, a213: a213_p08, cb08: cb08_p08}},
  {res: fitRes_p09, bkg: fitBkg_p09, mol: fitMol_p09, rsn: fitRsn_p09, data: {saphir: saphir_p09, a213: a213_p09}}
];

const FONT = 'DejaVu Sans, Liberation Sans, sans-serif';

const curveStyles = {
  res: {name: 'Fit_Result',      line: {color: '#e8141a', width: 2.6}, rank: 1},
  bkg: {name: 'Fit_Background',  line: {color: '#3535c8', width: 1.2, dash: '7px,2px,1.5px,2px'}, rank: 2},
  mol: {name: 'Fit_Molecules',   line: {color: '#d23a3a', width: 1.1, dash: '3.5px,1.8px'}, rank: 3},
  rsn: {name: 'Fit_Resonances',  line: {color: '#f0b23a', width: 1.2, dash: '1.2px,1.6px'}, rank: 4}
};
const curveOrder = ['rsn', 'mol', 'bkg', 'res'];

const dataStyles = {
  a219:   {name: 'A2 2019',     color: '#c6a2f0', symbol: 'line-ew', size: 5, rank: 1},
  cb12:   {name: 'CBELSA 2012', color: '#f27a36', symbol: 'triangle-up', size: 8, rank: 2},
  a213:   {name: 'A2 2013',     color: '#1f62aa', symbol: 'square', size: 7, rank: 3},
  cb08:   {name: 'CBELSA 2008', color: '#b1202f', symbol: 'diamond-tall', size: 7, rank: 4},
  saphir: {name: 'SAPHIR 2005', color: '#3dbe96', symbol: 'circle', size: 8, rank: 5}
};
const dataOrder = ['a219', 'saphir', 'cb12', 'a213', 'cb08'];

const traces = [];
const layout = {
  width: 1001, height: 1146,
  margin: {l: 94, r: 16, t: 51, b: 61},
  paper_bgcolor: '#ffffff', plot_bgcolor: '#ffffff',
  font: {family: FONT, size: 18, color: '#000000'},
  showlegend: true,
  annotations: []
};

const nRows = 7, nCols = 3;
const shownLegend = {};

panels.forEach((p, k) => {
  const row = Math.floor(k / nCols), col = k % nCols;
  const sfx = k === 0 ? '' : String(k + 1);
  const xa = 'x' + sfx, ya = 'y' + sfx;
  const isBottom = (k + nCols >= panels.length);
  // the first x label and the top y label are left to the neighbouring panel
  const xv = (col === 0) ? xTicks : xTicks.filter(v => v > 1.75);
  const yv = (row === 0) ? yTicks : yTicks.filter(v => v < 0.75);

  layout['xaxis' + sfx] = {
    domain: [col / nCols, (col + 1) / nCols],
    anchor: ya, range: [1.7, 2.4],
    tickmode: 'array', tickvals: xv, ticktext: xv.map(v => v.toFixed(1)),
    showticklabels: isBottom,
    ticks: 'inside', ticklen: 7, tickwidth: 1.2, tickcolor: '#222',
    minor: {tickmode: 'linear', tick0: 1.7, dtick: 0.05, ticks: 'inside', ticklen: 4, tickwidth: 1, tickcolor: '#222'},
    showline: true, linecolor: '#333', linewidth: 1.2, mirror: true,
    showgrid: false, zeroline: false, fixedrange: true,
    tickfont: {family: FONT, size: 18, color: '#000'}
  };
  layout['yaxis' + sfx] = {
    domain: [1 - (row + 1) / nRows, 1 - row / nRows],
    anchor: xa, range: [0, 0.81],
    tickmode: 'array', tickvals: yv, ticktext: yv.map(v => v.toFixed(1)),
    showticklabels: col === 0,
    ticks: 'inside', ticklen: 7, tickwidth: 1.2, tickcolor: '#222',
    minor: {tickmode: 'linear', tick0: 0, dtick: 0.05, ticks: 'inside', ticklen: 4, tickwidth: 1, tickcolor: '#222'},
    showline: true, linecolor: '#333', linewidth: 1.2, mirror: true,
    showgrid: false, zeroline: false, fixedrange: true,
    tickfont: {family: FONT, size: 18, color: '#000'}
  };

  // bin label
  layout.annotations.push({
    text: cosBins[k], xref: xa + ' domain', yref: ya + ' domain',
    x: 0.5, y: 0.905, xanchor: 'center', yanchor: 'middle',
    showarrow: false, font: {family: FONT, size: 19, color: '#000'}
  });

  // fit curves
  curveOrder.forEach(key => {
    const st = curveStyles[key];
    const pts = p[key];
    traces.push({
      type: 'scatter', mode: 'lines',
      x: pts.map(q => q[0]), y: pts.map(q => q[1]),
      xaxis: xa, yaxis: ya,
      line: Object.assign({shape: 'spline', smoothing: 0.9}, st.line),
      name: st.name, legend: 'legend', legendgroup: key, legendrank: st.rank,
      showlegend: k === 0, hoverinfo: 'skip'
    });
  });

  // measured points
  dataOrder.forEach(key => {
    const pts = p.data[key];
    if (!pts) return;
    const st = dataStyles[key];
    const first = !shownLegend[key];
    shownLegend[key] = true;
    traces.push({
      type: 'scatter', mode: 'markers',
      x: pts.map(q => q[0]), y: pts.map(q => q[1]),
      error_y: {type: 'data', array: pts.map(q => q[2]), visible: true,
                color: st.color, thickness: 1.7, width: 4.5},
      marker: {symbol: st.symbol, size: st.size, color: st.color,
               line: {color: st.color, width: key === 'a219' ? 1.5 : 0}},
      xaxis: xa, yaxis: ya,
      name: st.name, legend: 'legend2', legendgroup: key, legendrank: st.rank,
      showlegend: first, hoverinfo: 'skip'
    });
  });
});

// legend boxes in the empty grid cells
const PW = 891, PH = 1034;
const legendTop = 1 - (963 - 51) / PH;
layout.legend = {
  x: (482 - 94) / PW, y: legendTop, xanchor: 'left', yanchor: 'top',
  bgcolor: 'rgba(255,255,255,0.9)', bordercolor: '#cfcfcf', borderwidth: 1,
  font: {family: FONT, size: 21, color: '#000'},
  traceorder: 'grouped', tracegroupgap: 0, itemwidth: 44
};
layout.legend2 = {
  x: (753 - 94) / PW, y: legendTop, xanchor: 'left', yanchor: 'top',
  bgcolor: 'rgba(255,255,255,0.9)', bordercolor: '#cfcfcf', borderwidth: 1,
  font: {family: FONT, size: 21, color: '#000'},
  traceorder: 'grouped', tracegroupgap: 0, itemwidth: 44
};

// figure title and shared axis titles
layout.annotations.push({
  text: '<i>\u03b3p</i> \u2192 <i>K</i><sup>0</sup>\u03a3<sup>+</sup>',
  xref: 'paper', yref: 'paper', x: (523 - 94) / PW, y: 1 + (51 - 25) / PH,
  xanchor: 'center', yanchor: 'middle', showarrow: false,
  font: {family: FONT, size: 20, color: '#000'}
});
layout.annotations.push({
  text: '<i>W</i> (GeV)',
  xref: 'paper', yref: 'paper', x: (514 - 94) / PW, y: 1 - (1131 - 51) / PH,
  xanchor: 'center', yanchor: 'middle', showarrow: false,
  font: {family: FONT, size: 20, color: '#000'}
});
layout.annotations.push({
  text: '<i>d\u03c3</i>/<i>dcos\u03b8</i><sub><i>K</i></sub><sup><i>c.m.</i></sup> (\u03bcb)',
  xref: 'paper', yref: 'paper', x: (45 - 94) / PW, y: 1 - (597 - 51) / PH,
  xanchor: 'center', yanchor: 'middle', textangle: -90, showarrow: false,
  font: {family: FONT, size: 21, color: '#000'}
});

Plotly.newPlot('chart', traces, layout, {staticPlot: true, displayModeBar: false});
</script>
</body>
</html>
